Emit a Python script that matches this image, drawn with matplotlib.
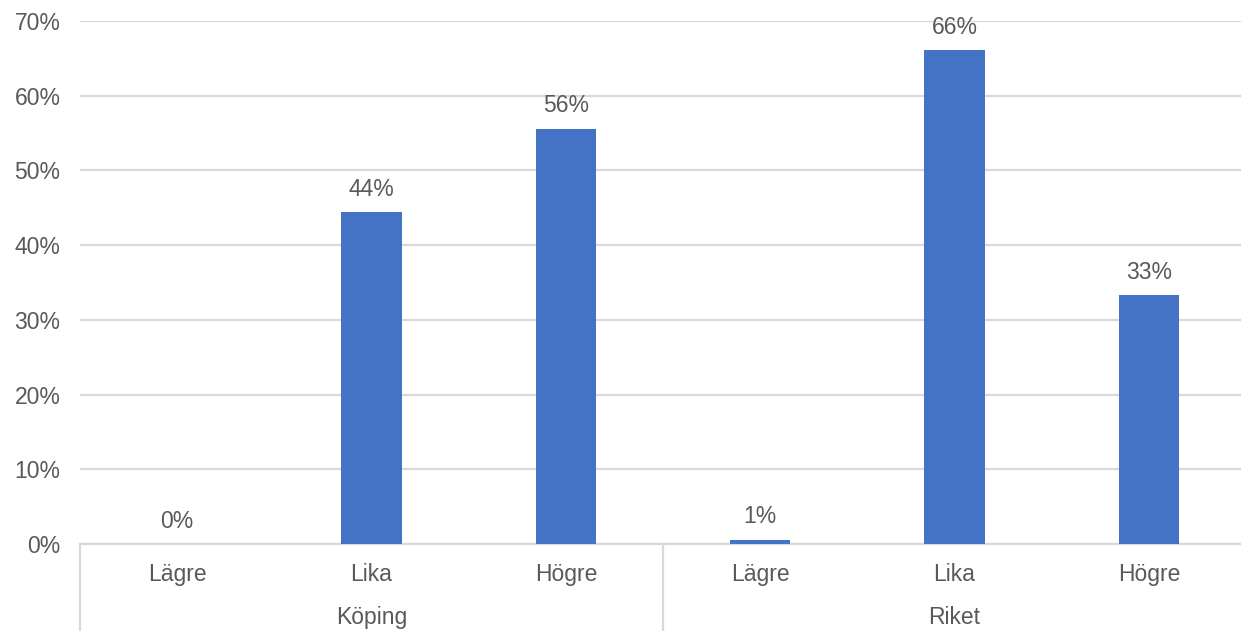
import matplotlib.pyplot as plt
import matplotlib.transforms as mtransforms

plt.rcParams['font.family'] = ['Liberation Sans', 'DejaVu Sans']

# data
groups = ['Köping', 'Riket']
categories = ['Lägre', 'Lika', 'Högre']
koping = [0.0, 44.4, 55.6]
riket = [0.6, 66.1, 33.3]

values = koping + riket
labels = categories * 2
x = list(range(len(values)))

bar_col = '#4472C4'
txt_col = '#595959'
grid_col = '#D9D9D9'
fs = 16.5

fig = plt.figure(figsize=(12.41, 6.31), dpi=100)
ax = fig.add_axes([80 / 1241, 87 / 631, 1166 / 1241, 523 / 631])

ax.bar(x, values, width=0.31, color=bar_col, zorder=3)
for xi, v in zip(x, values):
    ax.annotate('%d%%' % round(v), (xi, v), xytext=(0, 8), textcoords='offset points',
                ha='center', va='bottom', fontsize=fs, color=txt_col)

ax.set_xlim(-0.5, len(values) - 0.5)
ax.set_ylim(0, 70)
ax.set_yticks(range(0, 71, 10))
ax.set_yticklabels(['%d%%' % t for t in range(0, 71, 10)])
ax.yaxis.grid(True, color=grid_col, linewidth=1.6, zorder=0)
ax.set_xticks(x)
ax.set_xticklabels(labels)
ax.tick_params(axis='both', length=0, labelsize=fs, labelcolor=txt_col)
ax.tick_params(axis='x', pad=14)
ax.tick_params(axis='y', pad=14)

for s in ['top', 'right', 'left']:
    ax.spines[s].set_visible(False)
ax.spines['bottom'].set_color(grid_col)
ax.spines['bottom'].set_linewidth(1.6)

# group labels and separators below the axis
trans = mtransforms.blended_transform_factory(ax.transData, ax.transAxes)
for i, g in enumerate(groups):
    mid = i * 3 + 1
    ax.text(mid, -0.14, g, transform=trans, ha='center', va='center',
            fontsize=fs, color=txt_col)
for b in [-0.5, 2.5, 5.5]:
    ax.plot([b, b], [0, -0.2], transform=trans, color=grid_col, linewidth=1.6,
            clip_on=False)

fig.savefig('out.png', dpi=100)
